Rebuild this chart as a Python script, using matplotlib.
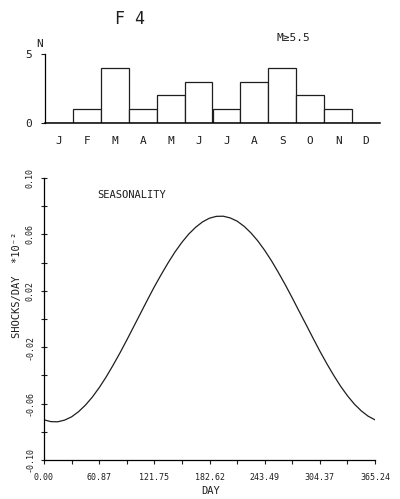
import matplotlib
matplotlib.use("Agg")
import matplotlib.pyplot as plt
from matplotlib.ticker import FixedLocator

plt.rcParams["font.family"] = ["DejaVu Sans Mono", "DejaVu Sans"]
INK = "#1e1e1e"

# monthly event counts, M >= 5.5
months = ["J", "F", "M", "A", "M", "J", "J", "A", "S", "O", "N", "D"]
counts = [0, 1, 4, 1, 2, 3, 1, 3, 4, 2, 1, 0]

# seasonality curve, shocks/day (x10^-2) against day of year
days = [0.0, 7.6, 15.2, 22.8, 30.4, 38.0, 45.7, 53.3, 60.9, 68.5, 76.1, 83.7,
        91.3, 98.9, 106.5, 114.1, 121.7, 129.4, 137.0, 144.6, 152.2, 159.8,
        167.4, 175.0, 182.6, 190.2, 197.8, 205.4, 213.1, 220.7, 228.3, 235.9,
        243.5, 251.1, 258.7, 266.3, 273.9, 281.5, 289.2, 296.8, 304.4, 312.0,
        319.6, 327.2, 334.8, 342.4, 350.0, 357.6, 365.2]
rate = [-0.0715, -0.0728, -0.0729, -0.0717, -0.0694, -0.0658, -0.0611, -0.0554,
        -0.0487, -0.0412, -0.0329, -0.0242, -0.0150, -0.0055, 0.0040, 0.0135,
        0.0228, 0.0316, 0.0399, 0.0476, 0.0544, 0.0603, 0.0651, 0.0689, 0.0715,
        0.0728, 0.0729, 0.0717, 0.0694, 0.0658, 0.0611, 0.0554, 0.0487, 0.0412,
        0.0329, 0.0242, 0.0150, 0.0055, -0.0040, -0.0135, -0.0228, -0.0316,
        -0.0399, -0.0476, -0.0544, -0.0603, -0.0651, -0.0689, -0.0715]

day_ticks = [0.0, 60.87, 121.75, 182.62, 243.49, 304.37, 365.24]
rate_major = [-0.10, -0.06, -0.02, 0.02, 0.06, 0.10]
rate_minor = [-0.08, -0.04, 0.0, 0.04, 0.08]

W, H = 400, 499
fig = plt.figure(figsize=(W / 100, H / 100), dpi=100)


def box(x0, y_top, x1, y_bot):
    return [x0 / W, 1 - y_bot / H, (x1 - x0) / W, (y_bot - y_top) / H]


# ---- histogram ----
ah = fig.add_axes(box(45, 54, 380, 123))
ah.bar(range(12), counts, width=1.0, align="edge", facecolor="white",
       edgecolor=INK, linewidth=0.9)
ah.set_xlim(0, 12)
ah.set_ylim(0, 5)
for s in ("top", "right"):
    ah.spines[s].set_visible(False)
ah.spines["left"].set_linewidth(0.9)
ah.spines["bottom"].set_linewidth(1.1)
ah.set_yticks([0, 5])
ah.set_yticklabels(["0", "5"], fontsize=8)
ah.tick_params(axis="y", length=3, width=0.8, pad=6, colors=INK)
ah.set_xticks([i + 0.5 for i in range(12)])
ah.set_xticklabels(months, fontsize=8)
ah.tick_params(axis="x", length=0, pad=9, colors=INK)
ah.text(-0.2, 5.35, "N", fontsize=8, color=INK, ha="center", va="bottom")

fig.text(130 / W, 1 - 19 / H, "F 4", fontsize=12, color=INK,
         ha="center", va="center")
fig.text(293 / W, 1 - 38 / H, "M≥5.5", fontsize=8, color=INK,
         ha="center", va="center")

# ---- seasonality curve ----
ax = fig.add_axes(box(44, 178, 375, 460))
ax.plot(days, rate, color=INK, linewidth=0.9)
ax.set_xlim(0, 365.24)
ax.set_ylim(-0.10, 0.10)
for s in ("top", "right"):
    ax.spines[s].set_visible(False)
for s in ("left", "bottom"):
    ax.spines[s].set_linewidth(0.9)

ax.set_xticks(day_ticks)
ax.set_xticklabels([f"{d:.2f}" for d in day_ticks], fontsize=6)
ax.xaxis.set_minor_locator(FixedLocator(
    [(a + b) / 2 for a, b in zip(day_ticks[:-1], day_ticks[1:])]))
ax.tick_params(axis="x", which="both", direction="out", length=3,
               width=0.8, pad=6, colors=INK)

ax.set_yticks(rate_major)
ax.set_yticklabels([f"{v:.2f}" for v in rate_major], fontsize=6,
                   rotation=90, va="center")
ax.yaxis.set_minor_locator(FixedLocator(rate_minor))
ax.tick_params(axis="y", which="both", direction="inout", length=5,
               width=0.8, pad=4, colors=INK)

ax.text(0.16, 0.94, "SEASONALITY", transform=ax.transAxes, fontsize=7.5,
        color=INK, ha="left", va="center")
fig.text(17 / W, 1 - 285 / H, "SHOCKS/DAY  *10⁻²", fontsize=7.5, color=INK,
         rotation=90, ha="center", va="center")
fig.text(211 / W, 1 - 491 / H, "DAY", fontsize=7.5, color=INK,
         ha="center", va="center")

fig.savefig("out.png", dpi=100)
